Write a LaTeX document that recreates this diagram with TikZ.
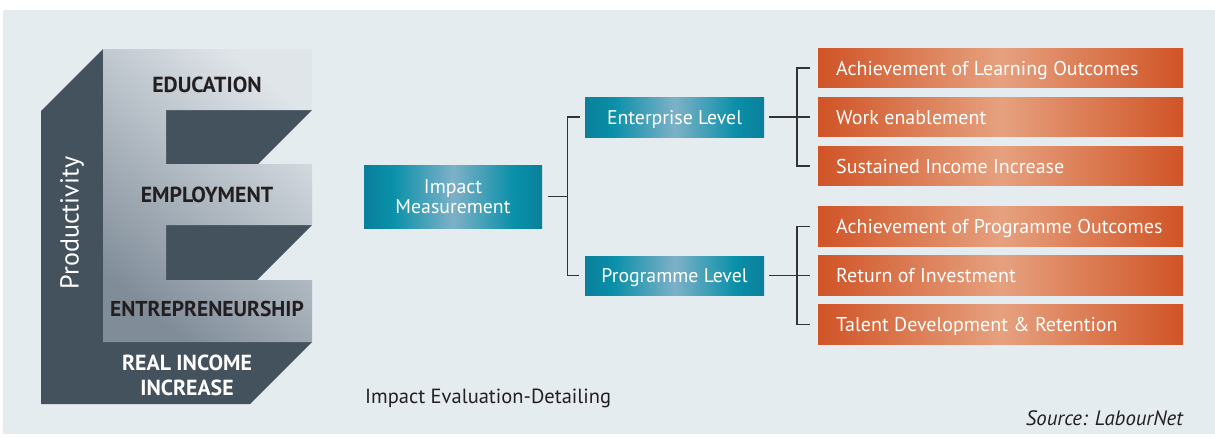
\documentclass[tikz,border=0pt]{standalone}
\usepackage{fontspec}
\setmainfont{PT Sans}
\usetikzlibrary{calc}
\definecolor{panel}{HTML}{E5ECEF}
\definecolor{edark}{HTML}{44525E}
\definecolor{elight}{HTML}{E0E5EA}
\definecolor{emid}{HTML}{808D99}
\definecolor{tealD}{HTML}{0A7F9B}
\definecolor{tealB}{HTML}{0A90A9}
\definecolor{tealL}{HTML}{7DB1C7}
\definecolor{orD}{HTML}{D05426}
\definecolor{orL}{HTML}{E6A17F}
\definecolor{ink}{HTML}{231F20}
\definecolor{linec}{HTML}{333333}
\pgfdeclarehorizontalshading{tealsh}{100bp}{color(0bp)=(tealD); color(25bp)=(tealD); color(33bp)=(tealB); color(50bp)=(tealL); color(67bp)=(tealB); color(75bp)=(tealD); color(100bp)=(tealD)}
\pgfdeclarehorizontalshading{orsh}{100bp}{color(0bp)=(orD); color(25bp)=(orD); color(50bp)=(orL); color(75bp)=(orD); color(100bp)=(orD)}
\newcommand{\orfill}[1]{\makebox[329pt][l]{#1}}
\begin{document}
\begin{tikzpicture}[x=1pt,y=-1pt,
  tealbox/.style={shade, shading=tealsh, inner sep=0pt, text=white, font=\fontsize{19.8}{20}\selectfont},
  orbox/.style={shade, shading=orsh, minimum width=365, minimum height=39.5, inner xsep=18, inner ysep=0, text height=14pt, text depth=0pt, anchor=west, text=white, font=\fontsize{20}{20}\selectfont},
  conn/.style={draw=linec, line width=1.3pt},
  elabel/.style={text=ink, font=\bfseries\fontsize{21.8}{25.5}\selectfont, inner sep=0pt}]
\useasboundingbox (0,0) rectangle (1215,437);
\fill[white] (0,0) rectangle (1215,437);
\fill[panel] (3,10) rectangle (1215,434);
% E shape
\fill[edark] (103,49) -- (41,111) -- (41,404) -- (250,404) -- (312,342) -- (103,342) -- cycle;
\fill[edark] (166,110) -- (312,110) -- (258,164) -- (166,164) -- cycle;
\fill[edark] (166,225) -- (312,225) -- (257,280) -- (166,280) -- cycle;
\shade[bottom color=emid, top color=elight, shading angle=-40] (103,49) -- (312,49) -- (312,110) -- (166,110) -- (166,164) -- (312,164) -- (312,225) -- (166,225) -- (166,280) -- (312,280) -- (312,342) -- (103,342) -- cycle;
\node[elabel] (edu) at (207,85) {EDUCATION};
\node[elabel] (emp) at (207,195) {EMPLOYMENT};
\node[elabel, font=\bfseries\fontsize{21.5}{25}\selectfont] (entr) at (207,309) {ENTREPRENEURSHIP};
\node[elabel, text=white, align=center] (rii) at (187,375.5) {REAL INCOME\\INCREASE};
\node[rotate=90, text=white, font=\fontsize{26}{26}\selectfont, inner sep=0pt] (prod) at (72,223) {Productivity};
% middle
\node[tealbox, minimum width=178, minimum height=63, align=center] (im) at (453,196.5) {Impact\\Measurement};
\node[tealbox, minimum width=179, minimum height=40, text height=14pt, text depth=0pt] (ent) at (674.5,117) {Enterprise Level};
\node[tealbox, minimum width=179, minimum height=39, text height=14pt, text depth=0pt] (prog) at (674.5,275.5) {Programme Level};
% right
\node[orbox] (o1) at (818,68) {\orfill{Achievement of Learning Outcomes}};
\node[orbox] (o2) at (818,117) {\orfill{Work enablement}};
\node[orbox] (o3) at (818,166) {\orfill{Sustained Income Increase}};
\node[orbox] (o4) at (818,226.5) {\orfill{Achievement of Programme Outcomes}};
\node[orbox] (o5) at (818,275.5) {\orfill{Return of Investment}};
\node[orbox] (o6) at (818,324.5) {\orfill{Talent Development \& Retention}};
% connectors
\draw[conn] ([xshift=6]im.east) -- ++(19,0) coordinate (j1);
\draw[conn] (j1) |- ([xshift=-5]ent.west);
\draw[conn] (j1) |- ([xshift=-6]prog.west);
\draw[conn] ([xshift=5]ent.east) -- ([xshift=-8]o2.west);
\draw[conn] ([xshift=-8]o1.west) -| ([xshift=-21]o3.west) -- ([xshift=-8]o3.west);
\draw[conn] ([xshift=5]prog.east) -- ([xshift=-8]o5.west);
\draw[conn] ([xshift=-8]o4.west) -| ([xshift=-21]o6.west) -- ([xshift=-8]o6.west);
% captions
\node[anchor=west, text=ink, inner sep=0pt, font=\fontsize{20.5}{20}\selectfont] (cap) at (365,398) {Impact Evaluation-Detailing};
\node[anchor=east, text=ink, inner sep=0pt, font=\itshape\fontsize{20.8}{20}\selectfont] (src) at (1183,418) {Source: LabourNet};
\end{tikzpicture}
\end{document}
